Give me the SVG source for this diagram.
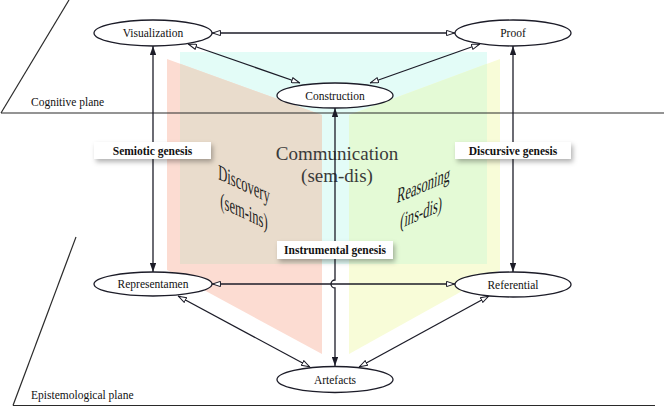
<svg xmlns="http://www.w3.org/2000/svg" width="664" height="407" viewBox="0 0 664 407">
<style>
.ln{stroke:#1c1c28;stroke-width:1.3;fill:none}
.pl{stroke:#2a2a2a;stroke-width:1.2;fill:none}
.nd{fill:#fff;stroke:#1c1c28;stroke-width:1.3}
.t{font-family:"Liberation Serif","Times New Roman",serif;font-size:11.5px;fill:#111;text-anchor:middle}
.pt{font-family:"Liberation Serif","Times New Roman",serif;font-size:11.5px;fill:#111}
.lb{font-family:"Liberation Serif","Times New Roman",serif;font-size:11.5px;font-weight:bold;fill:#111;text-anchor:middle}
.big{font-family:"Liberation Serif","Times New Roman",serif;font-size:19px;fill:#3a3a3a;text-anchor:middle}
.wing{font-family:"Liberation Serif","Times New Roman",serif;font-size:19px;fill:#1e1e1e;text-anchor:middle}
.box{fill:#fff}
</style>
<defs>
<marker id="oa" viewBox="0 0 10 7" refX="10" refY="3.5" markerWidth="9" markerHeight="6.3" markerUnits="userSpaceOnUse" orient="auto-start-reverse">
<path d="M0.6,0.6 L9.4,3.5 L0.6,6.4 z" fill="#fff" stroke="#1c1c28" stroke-width="1.1"/>
</marker>
<marker id="fa" viewBox="0 0 10 7" refX="10" refY="3.5" markerWidth="9" markerHeight="6.3" markerUnits="userSpaceOnUse" orient="auto-start-reverse">
<path d="M0,0 L10,3.5 L0,7 z" fill="#1c1c28"/>
</marker>
<filter id="sh" x="-20%" y="-50%" width="150%" height="220%">
<feDropShadow dx="2" dy="3" stdDeviation="2.5" flood-color="#000" flood-opacity="0.3"/>
</filter>
</defs>
<rect width="664" height="407" fill="#fff"/>

<g id="regions">
<rect x="180" y="52" width="307" height="212" fill="#e3fcf7"/>
<polygon points="167,59 322,115 322,354 167,270" fill="#fcdcd2"/>
<polygon points="500,59 349,115 349,354 500,270" fill="#f8fcd8"/>
<polygon points="180,63.7 322,115 322,264 180,264" fill="#e9dccc"/>
<polygon points="487,63.8 349,115 349,264 487,264" fill="#e4fad6"/>
</g>

<g id="planes">
<line class="pl" x1="1" y1="113" x2="69" y2="0"/>
<line class="pl" x1="1" y1="113" x2="664" y2="113"/>
<text class="pt" x="31" y="106">Cognitive plane</text>
<line class="pl" x1="13" y1="405.5" x2="76" y2="237"/>
<line class="pl" x1="13" y1="405.5" x2="655" y2="405.5"/>
<text class="pt" x="31" y="399">Epistemological plane</text>
</g>

<g id="wing-labels">
<text class="big" x="337" y="160">Communication</text>
<text class="big" x="337" y="182">(sem-dis)</text>
<g transform="translate(244,191) matrix(0.66,0.31,0,1.15,0,0)">
<text class="wing" x="0" y="0">Discovery</text>
<text class="wing" x="0" y="24">(sem-ins)</text>
</g>
<g transform="translate(423,192) matrix(0.66,-0.28,-0.1,1.15,0,0)">
<text class="wing" x="0" y="0">Reasoning</text>
<text class="wing" x="0" y="24">(ins-dis)</text>
</g>
</g>

<g id="connectors">
<line class="ln" x1="212" y1="33" x2="455" y2="33" marker-start="url(#oa)" marker-end="url(#oa)"/>
<line class="ln" x1="188" y1="44" x2="300" y2="83" marker-start="url(#oa)" marker-end="url(#oa)"/>
<line class="ln" x1="480" y1="44" x2="370" y2="83" marker-start="url(#oa)" marker-end="url(#oa)"/>
<line class="ln" x1="212" y1="284" x2="455" y2="284" marker-start="url(#oa)" marker-end="url(#oa)"/>
<line class="ln" x1="178" y1="296" x2="310" y2="367" marker-start="url(#oa)" marker-end="url(#oa)"/>
<line class="ln" x1="489" y1="296" x2="359" y2="367" marker-start="url(#oa)" marker-end="url(#oa)"/>
<line class="ln" x1="153" y1="46" x2="153" y2="272" marker-start="url(#fa)" marker-end="url(#fa)"/>
<line class="ln" x1="513" y1="46" x2="513" y2="272" marker-start="url(#fa)" marker-end="url(#fa)"/>
<path class="ln" d="M335,108 L335,280 A4,4 0 0 0 335,288 L335,366" marker-start="url(#fa)" marker-end="url(#fa)"/>
<g id="label-semiotic">
<rect class="box" x="94" y="142" width="117" height="17" filter="url(#sh)"/>
<text class="lb" x="152.5" y="154.5">Semiotic genesis</text>
</g>
<g id="label-discursive">
<rect class="box" x="455" y="142" width="116" height="17" filter="url(#sh)"/>
<text class="lb" x="513" y="154.5">Discursive genesis</text>
</g>
<g id="label-instrumental">
<rect class="box" x="277" y="241" width="116" height="18" filter="url(#sh)"/>
<text class="lb" x="335" y="254">Instrumental genesis</text>
</g>
</g>

<g id="visualization"><ellipse class="nd" cx="153" cy="33" rx="59" ry="13"/><text class="t" x="153" y="37">Visualization</text></g>
<g id="proof"><ellipse class="nd" cx="513" cy="33" rx="58" ry="13"/><text class="t" x="513" y="37">Proof</text></g>
<g id="construction"><ellipse class="nd" cx="335" cy="95.5" rx="58" ry="12.5"/><text class="t" x="335" y="99.5">Construction</text></g>
<g id="representamen"><ellipse class="nd" cx="153" cy="284" rx="59" ry="12"/><text class="t" x="153" y="288">Representamen</text></g>
<g id="referential"><ellipse class="nd" cx="513" cy="284.5" rx="58" ry="12.5"/><text class="t" x="513" y="288.5">Referential</text></g>
<g id="artefacts"><ellipse class="nd" cx="335" cy="379.5" rx="58" ry="13"/><text class="t" x="335" y="383.5">Artefacts</text></g>
</svg>
